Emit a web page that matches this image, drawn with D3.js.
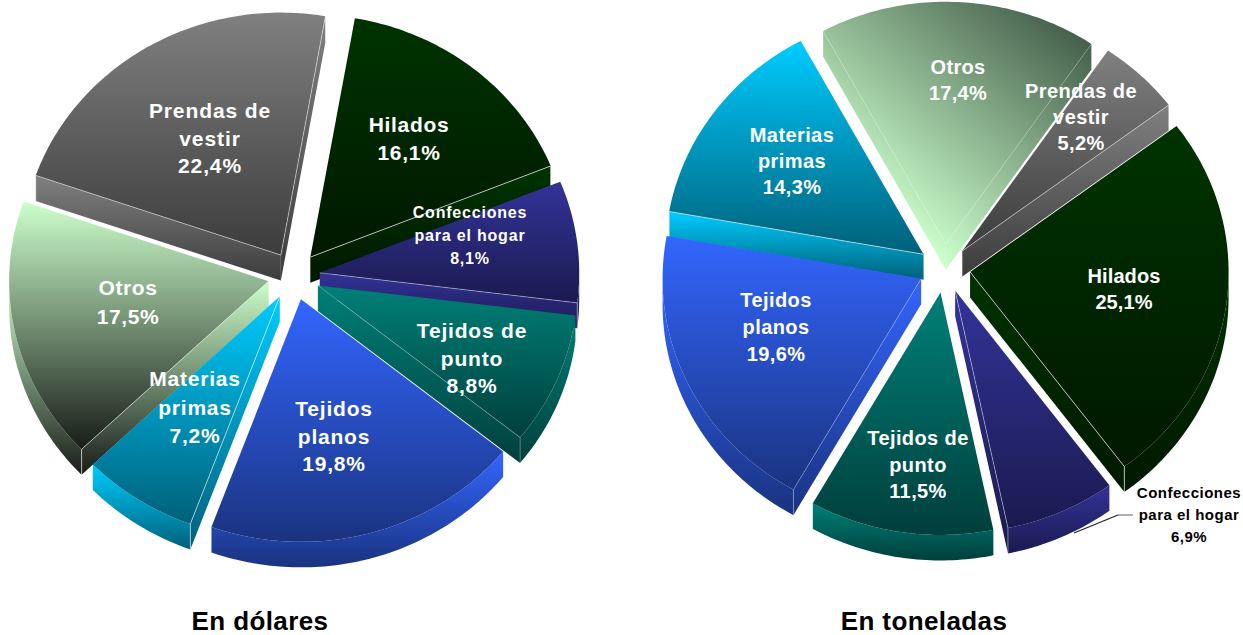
<!DOCTYPE html>
<html>
<head>
<meta charset="utf-8">
<script src="https://cdn.jsdelivr.net/npm/d3@7"></script>
<style>
  body { margin: 0; background: white; }
  svg { display: block; }
  text { font-family: "Liberation Sans", Arial, sans-serif; font-weight: bold; text-anchor: middle; }
</style>
</head>
<body>
<svg id="chart" width="1243" height="635"></svg>
<script>
var categories = ["Hilados", "Confecciones para el hogar", "Tejidos de punto", "Tejidos planos", "Materias primas", "Otros", "Prendas de vestir"];
var dolares = [16.1, 8.1, 8.8, 19.8, 7.2, 17.5, 22.4];
var toneladas = [25.1, 6.9, 11.5, 19.6, 14.3, 17.4, 5.2];

// top and bottom colour of each category gradient
var lightColors = ["#003300", "#333399", "#008078", "#3366ff", "#00ccff", "#ccffcc", "#808080"];
var darkColors = ["#001800", "#1a1a50", "#003f3c", "#1a3380", "#00607a", "#181c18", "#3c3c3c"];
// how strong the thin light line on the folds is
var foldOpacity = [0.8, 0.5, 0.35, 0.3, 0.7, 0.7, 0.6];

// text lines and where they sit, same order as categories
var leftLabels = [
  {x: 409, y: 132, size: 21, ls: 0.7, dy: 28, lines: ["Hilados"]},
  {x: 470, y: 218, size: 16, ls: 0.8, dy: 23, lines: ["Confecciones", "para el hogar"]},
  {x: 472, y: 338, size: 21, ls: 0.8, dy: 27.5, lines: ["Tejidos de", "punto"]},
  {x: 334, y: 416, size: 21, ls: 0.8, dy: 27.5, lines: ["Tejidos", "planos"]},
  {x: 195, y: 386, size: 21, ls: 0.8, dy: 28.5, lines: ["Materias", "primas"]},
  {x: 128, y: 295, size: 21, ls: 0.6, dy: 29, lines: ["Otros"]},
  {x: 210, y: 118, size: 21, ls: 0.9, dy: 27.5, lines: ["Prendas de", "vestir"]}
];
var rightLabels = [
  {x: 1124, y: 283, size: 20, ls: 0.1, dy: 26, lines: ["Hilados"]},
  {x: 1189, y: 498, size: 15, ls: 0.5, dy: 22, lines: ["Confecciones", "para el hogar"], color: "black"},
  {x: 918, y: 445, size: 20, ls: 0.4, dy: 26.5, lines: ["Tejidos de", "punto"]},
  {x: 776, y: 307, size: 20, ls: 0.4, dy: 27, lines: ["Tejidos", "planos"]},
  {x: 792, y: 142, size: 20, ls: 0.4, dy: 26.2, lines: ["Materias", "primas"]},
  {x: 958, y: 74, size: 20, ls: 0.3, dy: 26, lines: ["Otros"]},
  {x: 1081, y: 98, size: 20, ls: 0.4, dy: 26, lines: ["Prendas de", "vestir"]}
];

var svg = d3.select("#chart");
var defs = svg.append("defs");
var pctFormat = d3.format(".1f");
var depth = 25.5;
var explode = 0.1;
var toRad = Math.PI / 180;

var addGradient = function(id, i, vector){
  var grad = defs.append("linearGradient").attr("id", id);
  if (vector) {
    grad.attr("gradientUnits", "userSpaceOnUse")
        .attr("x1", vector[0]).attr("y1", vector[1])
        .attr("x2", vector[2]).attr("y2", vector[3]);
  } else {
    grad.attr("x1", 0).attr("y1", 0).attr("x2", 0).attr("y2", 1);
  }
  grad.append("stop").attr("offset", 0).attr("stop-color", lightColors[i]);
  grad.append("stop").attr("offset", 1).attr("stop-color", vector ? "#334a3a" : darkColors[i]);
  return "url(#" + id + ")";
}

var drawPie = function(opts){
  var x = d3.scaleLinear().domain([-1, 1]).range([opts.cx - opts.radX, opts.cx + opts.radX]);
  var y = d3.scaleLinear().domain([-1, 1]).range([opts.cy - opts.radY, opts.cy + opts.radY]);
  var line = d3.line();

  var pie = d3.pie().sort(null)
              .startAngle(opts.start * toRad)
              .endAngle((opts.start + 360) * toRad);

  var slices = pie(opts.values).map(function(d, i){
    d.i = i;
    d.mid = (d.startAngle + d.endAngle) / 2;
    return d;
  });
  // back slices first so the front ones cover their walls
  slices.sort(function(a, b){ return -Math.cos(a.mid) + Math.cos(b.mid); });

  slices.forEach(function(d){
    var g = svg.append("g");
    var pt = function(t, r, dz){
      return [x(r * Math.sin(t) + explode * Math.sin(d.mid)),
              y(-r * Math.cos(t) - explode * Math.cos(d.mid)) + dz];
    };
    var rim = function(a, b, dz){
      return d3.range(a, b, toRad).concat([b]).map(function(t){ return pt(t, 1, dz); });
    };
    var id = opts.name + d.i;
    var vector = opts.tilt && opts.tilt.i == d.i ? opts.tilt.vector : null;
    var wallFill = vector ? addGradient(id + "w", d.i, vector) : null;

    // outer wall, only the part turned to the viewer
    var lo = Math.max(d.startAngle, 90 * toRad);
    var hi = Math.min(d.endAngle, 270 * toRad);
    if (hi > lo) {
      g.append("path")
       .attr("d", line(rim(lo, hi, 0).concat(rim(lo, hi, depth).reverse())) + "Z")
       .attr("fill", addGradient(id + "o", d.i));
    }

    // radial walls
    var edges = [];
    if (Math.sin(d.startAngle) < 0) edges.push(d.startAngle);
    if (Math.sin(d.endAngle) > 0) edges.push(d.endAngle);
    edges.forEach(function(t, n){
      g.append("path")
       .attr("d", line([pt(t, 0, 0), pt(t, 1, 0), pt(t, 1, depth), pt(t, 0, depth)]) + "Z")
       .attr("fill", wallFill || addGradient(id + "r" + n, d.i));
    });

    // top face
    var face = [pt(0, 0, 0)].concat(rim(d.startAngle, d.endAngle, 0));
    g.append("path")
     .attr("d", line(face) + "Z")
     .attr("fill", vector ? addGradient(id + "t", d.i, vector) : addGradient(id + "t", d.i));

    // thin light lines on the folds
    edges.forEach(function(t){
      g.append("path")
       .attr("d", line([pt(t, 0, 0), pt(t, 1, 0), pt(t, 1, depth)]))
       .attr("fill", "none")
       .attr("stroke", "white")
       .attr("stroke-opacity", vector ? 0.2 : foldOpacity[d.i])
       .attr("stroke-width", 0.8);
    });
  });

  opts.labels.forEach(function(l, i){
    var lines = l.lines.concat([pctFormat(opts.values[i]).replace(".", ",") + "%"]);
    svg.selectAll(null)
       .data(lines)
       .enter()
       .append("text")
       .text(function(d){ return d; })
       .attr("x", l.x)
       .attr("y", function(d, n){ return l.y + n * l.dy; })
       .attr("font-size", l.size)
       .attr("letter-spacing", l.ls)
       .attr("fill", l.color || "white");
  });

  svg.append("text")
     .text(opts.title)
     .attr("x", opts.titleX)
     .attr("y", 629.5)
     .attr("font-size", 26)
     .attr("letter-spacing", 0.4)
     .attr("fill", "black");
}

drawPie({name: "usd", values: dolares, labels: leftLabels, cx: 294, cy: 276, radX: 259.5, radY: 242.5, start: 9.9, title: "En dólares", titleX: 260});
drawPie({name: "ton", values: toneladas, labels: rightLabels, cx: 944.5, cy: 268.5, radX: 258.5, radY: 242.5, start: 53, title: "En toneladas", titleX: 924,
         tilt: {i: 5, vector: [938, 258, 1130, 32]}});

// leader of the outside label
svg.append("path")
   .attr("d", d3.line()([[1074, 533], [1118, 515]]))
   .attr("stroke", "#222").attr("stroke-width", 1.2).attr("fill", "none");
svg.append("path")
   .attr("d", d3.line()([[1118, 515], [1133, 515]]))
   .attr("stroke", "#777").attr("stroke-width", 1.2).attr("fill", "none");
</script>
</body>
</html>
